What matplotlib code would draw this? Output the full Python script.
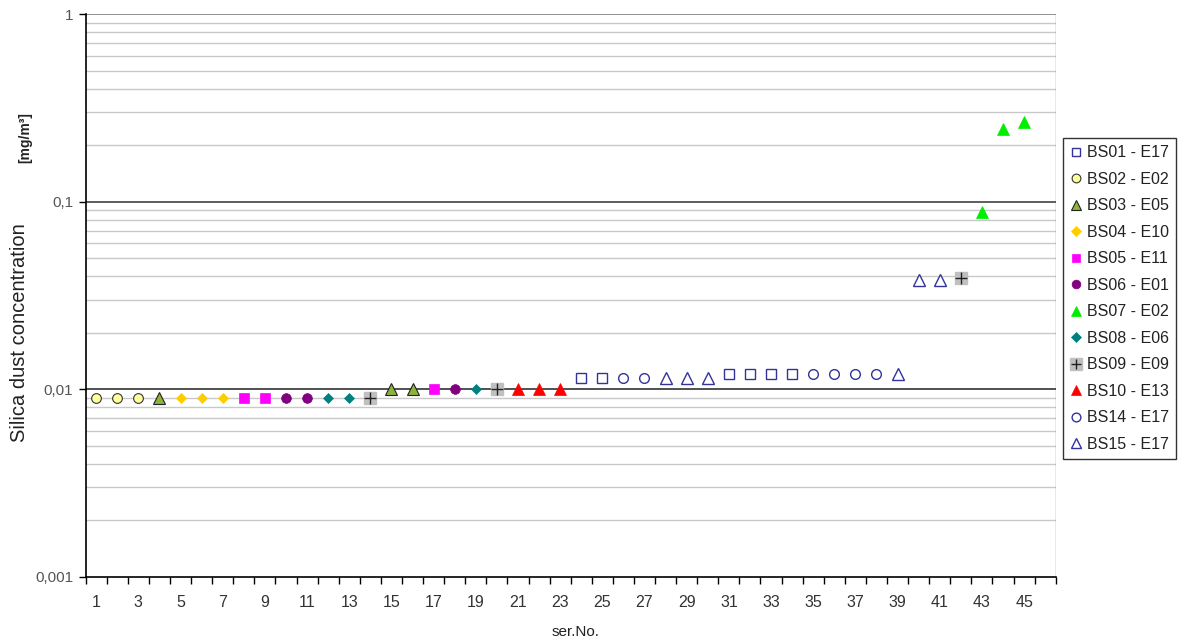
import matplotlib
matplotlib.use("Agg")
import matplotlib.pyplot as plt
import numpy as np
from matplotlib.legend_handler import HandlerTuple
from matplotlib.ticker import FixedLocator, NullFormatter, FixedFormatter

plt.rcParams['font.family'] = ['Liberation Sans', 'DejaVu Sans']

# ---- data ----
series_names = ["BS01 - E17", "BS02 - E02", "BS03 - E05", "BS04 - E10", "BS05 - E11",
                "BS06 - E01", "BS07 - E02", "BS08 - E06", "BS09 - E09", "BS10 - E13",
                "BS14 - E17", "BS15 - E17"]
series_x = {
    "BS01 - E17": [24, 25, 31, 32, 33, 34],
    "BS02 - E02": [1, 2, 3],
    "BS03 - E05": [4, 15, 16],
    "BS04 - E10": [5, 6, 7],
    "BS05 - E11": [8, 9, 17],
    "BS06 - E01": [10, 11, 18],
    "BS07 - E02": [43, 44, 45],
    "BS08 - E06": [12, 13, 19],
    "BS09 - E09": [14, 20, 42],
    "BS10 - E13": [21, 22, 23],
    "BS14 - E17": [26, 27, 35, 36, 37, 38],
    "BS15 - E17": [28, 29, 30, 39, 40, 41],
}
series_y = {
    "BS01 - E17": [0.0115, 0.0115, 0.012, 0.012, 0.012, 0.012],
    "BS02 - E02": [0.009, 0.009, 0.009],
    "BS03 - E05": [0.009, 0.010, 0.010],
    "BS04 - E10": [0.009, 0.009, 0.009],
    "BS05 - E11": [0.009, 0.009, 0.010],
    "BS06 - E01": [0.009, 0.009, 0.010],
    "BS07 - E02": [0.088, 0.245, 0.267],
    "BS08 - E06": [0.009, 0.009, 0.010],
    "BS09 - E09": [0.009, 0.010, 0.039],
    "BS10 - E13": [0.010, 0.010, 0.010],
    "BS14 - E17": [0.0115, 0.0115, 0.012, 0.012, 0.012, 0.012],
    "BS15 - E17": [0.0114, 0.0114, 0.0114, 0.012, 0.038, 0.038],
}
x_tick_labels = [str(i) for i in range(1, 46, 2)]
y_ticks = [0.001, 0.01, 0.1, 1]
y_tick_labels = ["0,001", "0,01", "0,1", "1"]

# ---- styles ----
navy = "#333399"
styles = {
    "BS01 - E17": dict(marker="s", ms=7, mfc="white", mec=navy, mew=1.0),
    "BS02 - E02": dict(marker="o", ms=7, mfc="#FFFF99", mec="#333333", mew=0.8),
    "BS03 - E05": dict(marker="^", ms=8, mfc="#8DB43A", mec="#222222", mew=0.8),
    "BS04 - E10": dict(marker="D", ms=5.5, mfc="#FFCC00", mec="#FFCC00", mew=0.5),
    "BS05 - E11": dict(marker="s", ms=7, mfc="#FF00FF", mec="#FF00FF", mew=0.5),
    "BS06 - E01": dict(marker="o", ms=7, mfc="#800080", mec="#800080", mew=0.5),
    "BS07 - E02": dict(marker="^", ms=8.5, mfc="#00EE00", mec="#00EE00", mew=0.5),
    "BS08 - E06": dict(marker="D", ms=5.5, mfc="#008080", mec="#008080", mew=0.5),
    "BS10 - E13": dict(marker="^", ms=8.5, mfc="#FF0000", mec="#FF0000", mew=0.5),
    "BS14 - E17": dict(marker="o", ms=7, mfc="white", mec=navy, mew=1.0),
    "BS15 - E17": dict(marker="^", ms=8.5, mfc="white", mec=navy, mew=1.0),
}

fig = plt.figure(figsize=(11.83, 6.43), dpi=100)
ax = fig.add_axes([0.0724, 0.1034, 0.82, 0.8744])

ax.set_yscale("log")
ax.set_ylim(0.001, 1)
ax.set_xlim(0.5, 46.5)

# gridlines
for dec in [0.001, 0.01, 0.1]:
    for k in range(2, 10):
        ax.axhline(dec * k, color="#c8c8c8", lw=1.0, zorder=0)
ax.axhline(0.1, color="#505050", lw=1.3, zorder=0.5)
ax.axhline(0.01, color="#202020", lw=1.1, zorder=0.5)
ax.axhline(1, color="#808080", lw=1.2, zorder=0.5)

handles = []
for name in series_names:
    xs = series_x[name]
    ys = series_y[name]
    if name == "BS09 - E09":
        h1, = ax.plot(xs, ys, ls="none", marker="s", ms=9, mfc="#C0C0C0", mec="#C0C0C0", zorder=3)
        h2, = ax.plot(xs, ys, ls="none", marker="+", ms=8, mec="#222222", mew=1.0, zorder=4)
        handles.append((h1, h2))
    else:
        h, = ax.plot(xs, ys, ls="none", zorder=3, **styles[name])
        handles.append(h)

# axes spines
for s in ["top", "right"]:
    ax.spines[s].set_visible(False)
ax.spines["left"].set_color("black")
ax.spines["left"].set_linewidth(1.2)
ax.spines["bottom"].set_color("black")
ax.spines["bottom"].set_linewidth(1.2)
ax.axvline(46.5, color="#909090", lw=1.0, zorder=0)

# x ticks: marks at boundaries, labels at odd categories
ax.xaxis.set_major_locator(FixedLocator(np.arange(0.5, 47, 1)))
ax.xaxis.set_major_formatter(NullFormatter())
ax.xaxis.set_minor_locator(FixedLocator(range(1, 46, 2)))
ax.xaxis.set_minor_formatter(FixedFormatter(x_tick_labels))
ax.tick_params(axis="x", which="major", direction="out", length=5, width=1, color="black")
ax.tick_params(axis="x", which="minor", length=0, pad=13, labelsize=11.5, labelcolor="#333333")

ax.yaxis.set_major_locator(FixedLocator(y_ticks))
ax.yaxis.set_major_formatter(FixedFormatter(y_tick_labels))
ax.yaxis.set_minor_locator(FixedLocator([]))
ax.tick_params(axis="y", which="major", direction="out", length=5, width=1, color="black",
               labelsize=11, labelcolor="#555555", pad=4)

fig.text(575 / 1183, 1 - 632 / 643, "ser.No.", ha="center", va="center", fontsize=11, color="#222222")
fig.text(20 / 1183, 1 - 333 / 643, "Silica dust concentration", rotation=90,
         ha="center", va="center", fontsize=14.5, color="#222222")
fig.text(25 / 1183, 1 - 138 / 643, "[mg/m³]", rotation=90,
         ha="center", va="center", fontsize=10, color="#222222", fontweight="bold")

leg = fig.legend(handles, series_names, loc="upper left",
                 bbox_to_anchor=(1063 / 1183, 1 - 138 / 643),
                 handler_map={tuple: HandlerTuple(ndivide=1, pad=0)},
                 frameon=True, fancybox=False, edgecolor="black", fontsize=11.5,
                 handlelength=0.7, handletextpad=0.35, borderpad=0.45,
                 labelspacing=0.72, markerscale=0.9, borderaxespad=0)
leg.get_frame().set_linewidth(1.0)
for t in leg.get_texts():
    t.set_color("#222222")

fig.savefig("out.png", dpi=100)
